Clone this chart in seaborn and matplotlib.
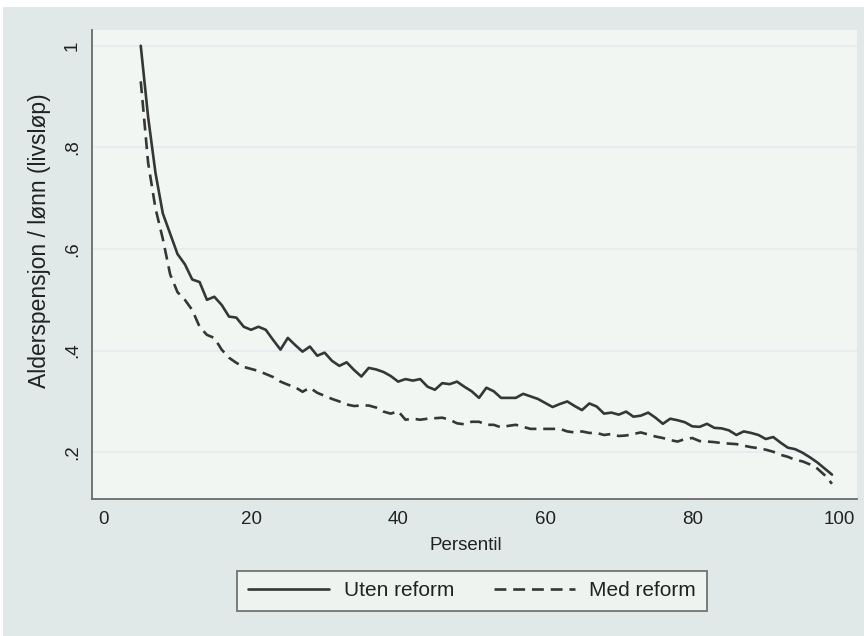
import numpy as np
import pandas as pd
import seaborn as sns
import matplotlib
matplotlib.use("Agg")
import matplotlib.pyplot as plt
from matplotlib.patches import Rectangle

percentil = list(range(5, 100))
uten_reform = [
    1.00, 0.86, 0.75, 0.67, 0.63, 0.59, 0.57, 0.54, 0.535, 0.50,
    0.506, 0.49, 0.467, 0.465, 0.447, 0.441, 0.447, 0.441, 0.421, 0.402,
    0.425, 0.411, 0.398, 0.408, 0.390, 0.396, 0.380, 0.370, 0.377, 0.362,
    0.349, 0.366, 0.363, 0.358, 0.350, 0.339, 0.344, 0.341, 0.344, 0.329,
    0.323, 0.336, 0.334, 0.339, 0.329, 0.320, 0.307, 0.327, 0.320, 0.307,
    0.307, 0.307, 0.315, 0.310, 0.305, 0.297, 0.289, 0.295, 0.300, 0.291,
    0.283, 0.296, 0.290, 0.276, 0.278, 0.274, 0.280, 0.270, 0.272, 0.278,
    0.268, 0.256, 0.266, 0.263, 0.259, 0.251, 0.250, 0.256, 0.248, 0.247,
    0.243, 0.234, 0.241, 0.238, 0.234, 0.226, 0.230, 0.219, 0.209, 0.206,
    0.199, 0.190, 0.180, 0.168, 0.156,
]
med_reform = [
    0.93, 0.77, 0.68, 0.62, 0.55, 0.515, 0.50, 0.48, 0.447, 0.431,
    0.425, 0.402, 0.386, 0.376, 0.368, 0.364, 0.360, 0.354, 0.348, 0.339,
    0.333, 0.328, 0.319, 0.327, 0.317, 0.311, 0.305, 0.300, 0.294, 0.291,
    0.292, 0.292, 0.288, 0.280, 0.276, 0.281, 0.264, 0.266, 0.264, 0.266,
    0.267, 0.268, 0.264, 0.257, 0.255, 0.260, 0.260, 0.254, 0.254, 0.249,
    0.252, 0.254, 0.250, 0.246, 0.246, 0.246, 0.246, 0.246, 0.241, 0.239,
    0.241, 0.238, 0.238, 0.234, 0.236, 0.232, 0.233, 0.236, 0.239, 0.235,
    0.231, 0.228, 0.224, 0.221, 0.226, 0.228, 0.222, 0.221, 0.220, 0.218,
    0.217, 0.216, 0.213, 0.210, 0.208, 0.205, 0.201, 0.195, 0.191, 0.185,
    0.182, 0.176, 0.168, 0.155, 0.138,
]
series_names = ["Uten reform", "Med reform"]
x_ticks = [0, 20, 40, 60, 80, 100]
y_ticks = [0.2, 0.4, 0.6, 0.8, 1.0]
y_ticklabels = [".2", ".4", ".6", ".8", "1"]

df = pd.DataFrame({
    "Persentil": percentil * 2,
    "verdi": uten_reform + med_reform,
    "serie": [series_names[0]] * len(percentil) + [series_names[1]] * len(percentil),
})

sns.set_style("white")
plt.rcParams["font.family"] = ["Liberation Sans", "DejaVu Sans"]

outer_bg = "#e0e9e7"
inner_bg = "#f2f6f3"
line_col = "#363636"
text_col = "#222222"

fig = plt.figure(figsize=(8.64, 6.36), dpi=100)
fig.patch.set_facecolor("white")
fig.patches.append(Rectangle((3 / 864, 0), 1 - 3 / 864, 1 - 7 / 636,
                             transform=fig.transFigure, facecolor=outer_bg,
                             edgecolor="none", zorder=-10))

ax = fig.add_axes([92 / 864, 1 - 499 / 636, (857 - 92) / 864, (499 - 30) / 636])
ax.set_facecolor(inner_bg)

sns.lineplot(data=df, x="Persentil", y="verdi", hue="serie", style="serie",
             palette=[line_col, line_col],
             dashes={"Uten reform": "", "Med reform": (4.5, 2.6)},
             linewidth=1.9, legend=False, ax=ax)

ax.set_xlim(-1.63, 102.4)
ax.set_ylim(0.108, 1.031)
ax.set_xticks(x_ticks)
ax.set_yticks(y_ticks)
ax.set_yticklabels(y_ticklabels, rotation=90, va="center")
ax.tick_params(axis="both", direction="out", length=5, width=1, color="#555555",
               labelsize=13.5, labelcolor=text_col, pad=4)
ax.tick_params(axis="y", pad=3)
ax.grid(axis="y", color="#e4ebef", linewidth=1.2)
ax.grid(axis="x", visible=False)
ax.set_axisbelow(True)
for s in ["top", "right"]:
    ax.spines[s].set_visible(False)
for s in ["left", "bottom"]:
    ax.spines[s].set_color("#6a6a6a")
    ax.spines[s].set_linewidth(1.3)

ax.set_xlabel("Persentil", fontsize=13.5, color=text_col)
ax.xaxis.set_label_coords(0.489, -0.081)
ax.set_ylabel("Alderspensjon / lønn (livsløp)", fontsize=16.5, color=text_col)
ax.yaxis.set_label_coords(-0.053, 0.55)

handles = ax.lines[:2]
leg = fig.legend(handles, series_names, loc="center", ncol=2,
                 bbox_to_anchor=(472 / 864, 1 - 591 / 636),
                 fontsize=15, frameon=True, fancybox=False,
                 handlelength=3.9, columnspacing=1.9, handletextpad=0.7,
                 borderpad=0.5, borderaxespad=0)
leg.get_frame().set_facecolor(inner_bg)
leg.get_frame().set_edgecolor("#555555")
leg.get_frame().set_linewidth(1.3)
for t in leg.get_texts():
    t.set_color(text_col)

fig.savefig("out.png", dpi=100, facecolor=fig.get_facecolor())
